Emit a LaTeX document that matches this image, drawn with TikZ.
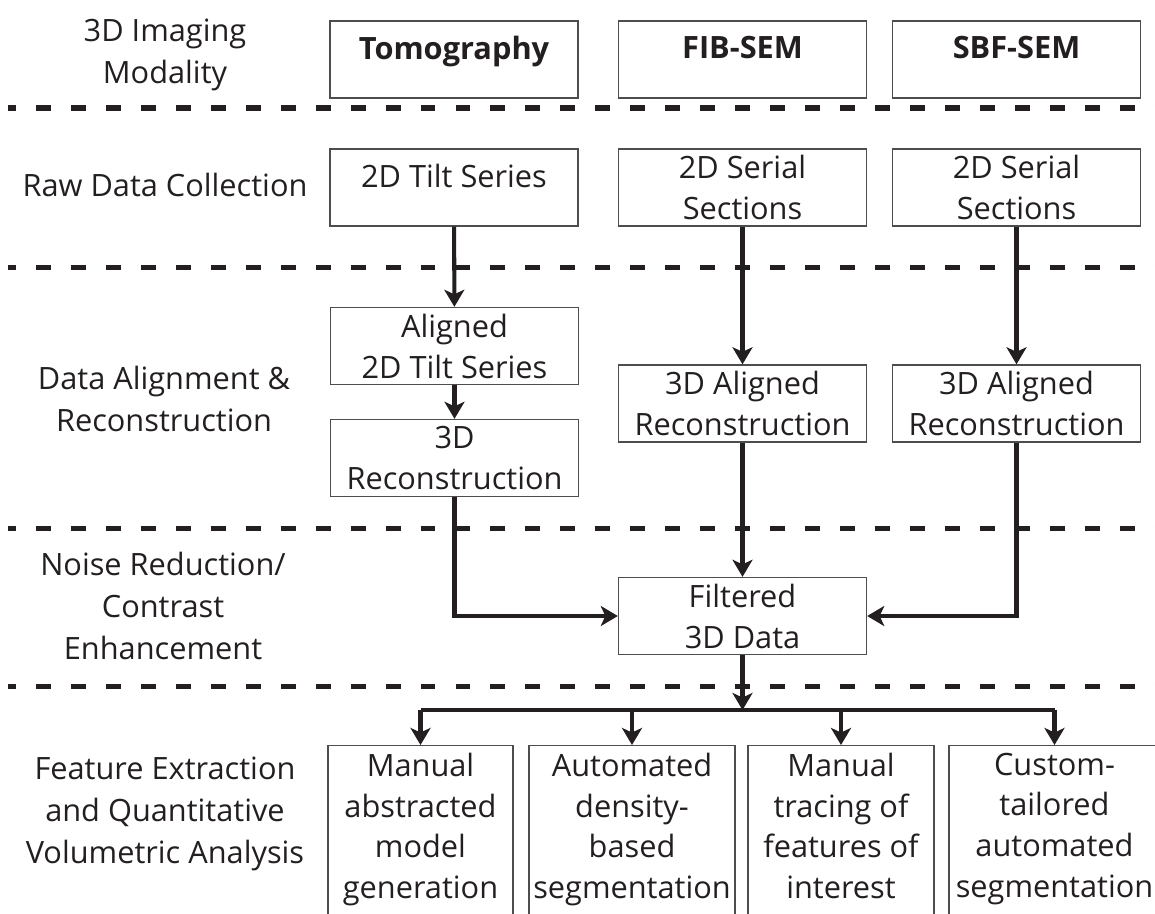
\documentclass[tikz,border=0pt]{standalone}
\usepackage{fontspec}
\setmainfont{Open Sans}
\usepackage{tikz}
\usetikzlibrary{arrows.meta}
\definecolor{ink}{HTML}{231F20}
\definecolor{edge}{HTML}{4D4D4F}
\tikzstyle{block} = [rectangle, draw=edge, line width=0.8pt, text=ink,
    align=center, inner sep=0pt, minimum width=4.96cm, minimum height=1.54cm,
    font=\fontsize{17.5pt}{23.3pt}\selectfont]
\tikzstyle{oneline} = [text depth=13.5pt]
\tikzstyle{leaf} = [block, anchor=north, minimum height=0pt,
    inner ysep=4pt, text depth=110pt]
\tikzstyle{stage} = [text=ink, align=center, inner sep=0pt,
    font=\fontsize{17.5pt}{23.8pt}\selectfont]
\tikzstyle{line} = [draw=ink, line width=2.3pt,
    -{Stealth[length=9.7pt, width=11.4pt, inset=2.6pt]}]
\tikzstyle{divider} = [draw=ink, line width=2.85pt,
    dash pattern=on 8.5pt off 11.4pt, dash phase=4pt]

\begin{document}
\begin{tikzpicture}[x=0.02cm, y=-0.02cm]
                \useasboundingbox (0,0) rectangle (1155,913);
                \clip (0,0) rectangle (1155,913);
                % stage separators
                \foreach \y in {108,267,528,686}
                    \path [divider] (8,\y) -- (1155,\y);
                % stage names
                \node [stage] at (165,55) (modality) {3D Imaging\\Modality};
                \node [stage] at (165,185) (rawdata) {Raw Data Collection};
                \node [stage] at (164,399) (alignment) {Data Alignment \&\\Reconstruction};
                \node [stage] at (163,606) (noise) {Noise Reduction/\\Contrast\\Enhancement};
                \node [stage] at (165,814) (feature) {Feature Extraction\\and Quantitative\\Volumetric Analysis};
                % boxes
                \node [block, oneline] at (454,59.5) (tomo) {\bfseries Tomography};
                \node [block, oneline] at (742.5,59.5) (fib) {\bfseries FIB-SEM};
                \node [block, oneline] at (1016.5,59.5) (sbf) {\bfseries SBF-SEM};
                \node [block, oneline] at (454,187.5) (tilt) {2D Tilt Series};
                \node [block] at (742.5,187.5) (serialfib) {2D Serial\\Sections};
                \node [block] at (1016.5,187.5) (serialsbf) {2D Serial\\Sections};
                \node [block] at (454.5,346) (aligned) {Aligned\\2D Tilt Series};
                \node [block] at (454.5,458) (recon) {3D\\Reconstruction};
                \node [block] at (742.5,403.5) (alignfib) {3D Aligned\\Reconstruction};
                \node [block] at (1016.5,403.5) (alignsbf) {3D Aligned\\Reconstruction};
                \node [block] at (742.5,616) (filtered) {Filtered\\3D Data};
                \node [leaf, minimum width=3.7cm] at (420.5,745) (manual) {Manual\\abstracted\\model\\generation};
                \node [leaf, minimum width=4.12cm] at (632,745) (density) {Automated\\density-\\based\\segmentation};
                \node [leaf, minimum width=3.72cm] at (841,745) (tracing) {Manual\\tracing of\\features of\\interest};
                \node [leaf, minimum width=4.22cm] at (1054.5,745) (custom) {Custom-\\tailored\\automated\\segmentation};
                \coordinate (split) at (742.5,710);
                % connectors
                \path [line] (tilt) -- (aligned);
                \path [line] (aligned) -- (recon);
                \path [line] (serialfib) -- (alignfib);
                \path [line] (serialsbf) -- (alignsbf);
                \path [line] (alignfib) -- (filtered);
                \path [line] (recon) |- (filtered);
                \path [line] (alignsbf) |- (filtered);
                \path [line] (filtered) -- (split);
                \path [draw=ink, line width=2.3pt] (manual |- split) -- (custom |- split);
                \path [line] (manual |- split) -- (manual);
                \path [line] (density |- split) -- (density);
                \path [line] (tracing |- split) -- (tracing);
                \path [line] (custom |- split) -- (custom);
            \end{tikzpicture}
\end{document}
